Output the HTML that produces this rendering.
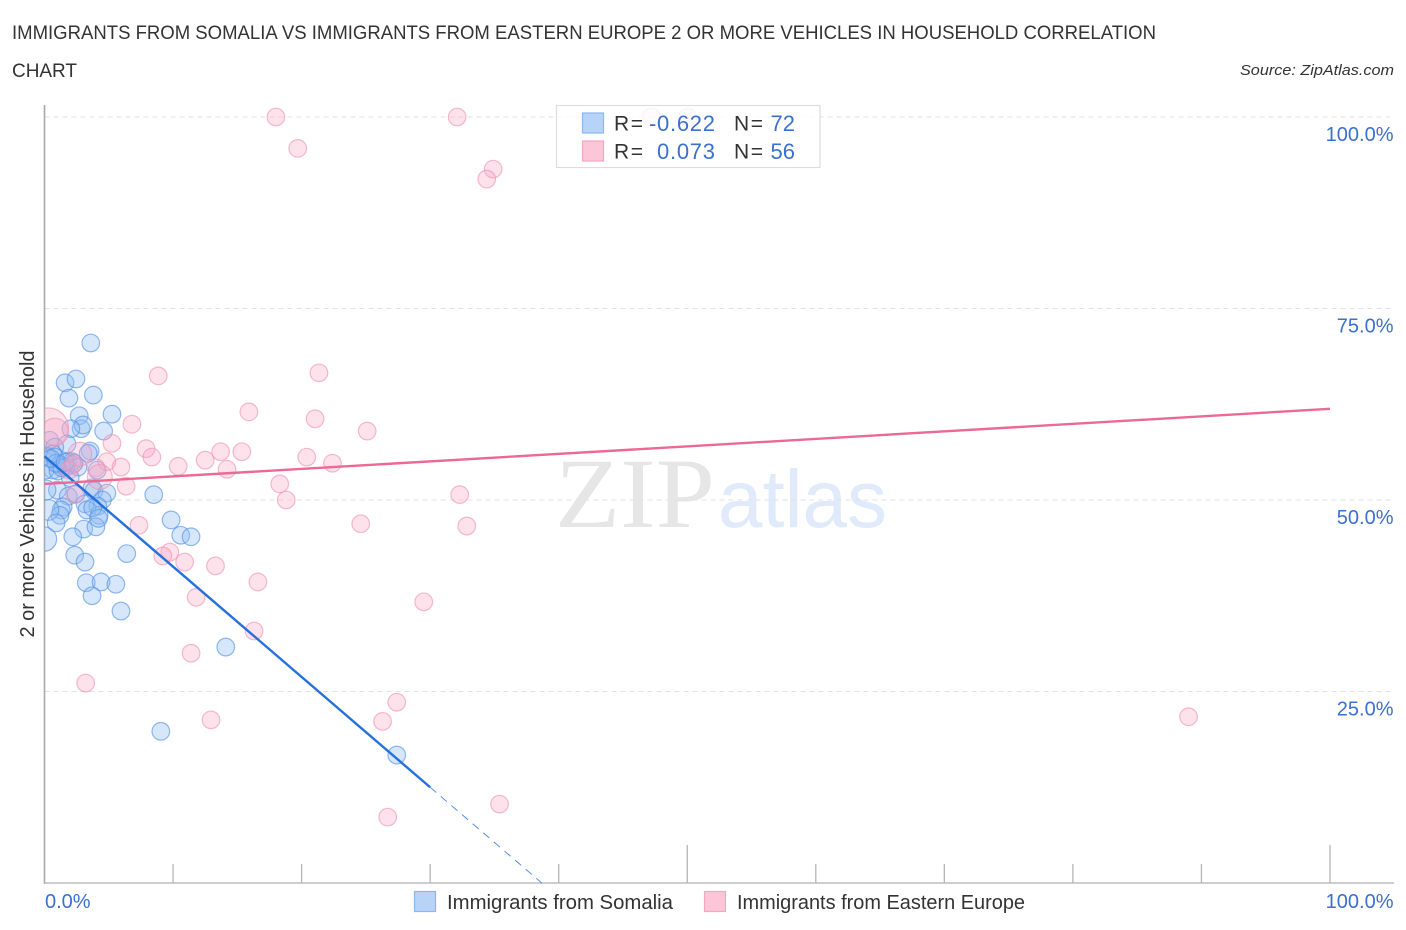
<!DOCTYPE html>
<html lang="en">
<head>
<meta charset="utf-8">
<title>Immigrants from Somalia vs Immigrants from Eastern Europe</title>
<style>
html,body{margin:0;padding:0;background:#fff;}
svg{display:block;font-family:"Liberation Sans",sans-serif;}
</style>
</head>
<body>
<svg id="chart" xmlns="http://www.w3.org/2000/svg" width="1406" height="930" viewBox="0 0 1406 930">
  <defs><clipPath id="plot-clip"><rect x="44.5" y="100" width="1350" height="783"/></clipPath></defs>
  <text x="12" y="39" font-size="19" fill="#333" textLength="1144" lengthAdjust="spacingAndGlyphs">IMMIGRANTS FROM SOMALIA VS IMMIGRANTS FROM EASTERN EUROPE 2 OR MORE VEHICLES IN HOUSEHOLD CORRELATION</text>
  <text x="12" y="77" font-size="19" fill="#333" textLength="65" lengthAdjust="spacingAndGlyphs">CHART</text>
  <text x="1394" y="75" font-size="15" font-style="italic" fill="#333" text-anchor="end" textLength="154" lengthAdjust="spacingAndGlyphs">Source: ZipAtlas.com</text>
  <text x="555" y="527" font-family="'Liberation Serif',serif" font-size="100" fill="#e6e6e6" textLength="160" lengthAdjust="spacingAndGlyphs">ZIP</text>
  <text x="718" y="527" font-size="82" fill="#e0eafa" textLength="169" lengthAdjust="spacingAndGlyphs">atlas</text>
  <g id="grid"></g>
  <g id="axes"></g>
  <g id="points" clip-path="url(#plot-clip)"></g>
  <g id="trends"></g>
  <g>
    <rect x="556.5" y="105.5" width="263.5" height="62" fill="#fff" fill-opacity="0.82" stroke="#ddd" stroke-width="1.2"/>
    <rect x="582.5" y="113" width="21" height="20" fill="#b8d3f8" stroke="#8db6f0" stroke-width="1.2"/>
    <rect x="582.5" y="141" width="21" height="20" fill="#fcc6d8" stroke="#f5a6c0" stroke-width="1.2"/>
    <g font-size="21" fill="#333">
      <text x="614" y="130.5" textLength="29" lengthAdjust="spacing">R =</text>
      <text x="614" y="158.5" textLength="29" lengthAdjust="spacing">R =</text>
      <text x="734" y="130.5" textLength="29" lengthAdjust="spacing">N =</text>
      <text x="734" y="158.5" textLength="29" lengthAdjust="spacing">N =</text>
    </g>
    <g font-size="22" fill="#3b70cf" text-anchor="end">
      <text x="715" y="131" textLength="66" lengthAdjust="spacing">-0.622</text>
      <text x="715" y="159" textLength="58" lengthAdjust="spacing">0.073</text>
      <text x="795" y="131">72</text>
      <text x="795" y="159">56</text>
    </g>
  </g>
  <text transform="translate(34,494) rotate(-90)" font-size="20" fill="#333" text-anchor="middle" textLength="287" lengthAdjust="spacingAndGlyphs">2 or more Vehicles in Household</text>
  <g id="tick-labels"></g>
  <g>
    <rect x="414.5" y="891.5" width="21" height="20" fill="#b8d3f8" stroke="#8db6f0" stroke-width="1.2"/>
    <text x="447" y="909" font-size="20" fill="#333" textLength="226" lengthAdjust="spacingAndGlyphs">Immigrants from Somalia</text>
    <rect x="704.5" y="891.5" width="21" height="20" fill="#fcc6d8" stroke="#f5a6c0" stroke-width="1.2"/>
    <text x="737" y="909" font-size="20" fill="#333" textLength="288" lengthAdjust="spacingAndGlyphs">Immigrants from Eastern Europe</text>
  </g>
</svg>
<script>
const somaliaX = [3.6,1.6,2.45,1.9,3.8,2.7,5.25,2.85,3.0,2.05,4.6,1.75,0.4,0.8,3.55,3.4,0.65,0.2,0.8,1.8,2.15,1.2,2.6,0.65,0.05,1.05,2.0,4.1,3.7,1.0,0.1,3.85,4.85,1.85,8.5,2.45,4.5,3.15,4.15,1.45,1.3,1.2,3.3,4.25,0.3,0.9,9.85,3.05,4.0,10.6,11.4,2.2,0.0,2.35,6.4,3.15,3.25,4.4,5.55,3.7,5.95,14.1,9.05,27.4,1.65,1.35,2.3,0.9,0.5,1.6,3.75,4.2];
const somaliaY = [70.5,65.3,65.8,63.3,63.7,61.0,61.2,59.3,59.8,59.3,59.0,57.3,57.8,56.9,56.4,56.1,56.0,55.7,55.6,55.0,55.0,54.6,54.3,53.9,53.9,53.8,52.9,53.9,51.6,51.3,51.3,51.2,50.9,50.5,50.7,50.8,50.0,49.5,49.2,49.1,48.7,48.0,48.7,48.0,48.7,47.0,47.4,46.2,46.5,45.4,45.2,45.2,44.9,42.8,43.0,41.9,39.2,39.3,39.0,37.5,35.5,30.8,19.8,16.7,54.3,54.2,54.8,54.8,55.4,54.9,49.0,47.6];
const somaliaWeight = [1,1,1,1,1,1,1,1,1,1,1,1,1,1,1,1,1,1,1,1,1,1,1,1,1,1,1,1,1,1,1.3,1,1,1,1,1,1,1,1,1,1,1,1,1,1.4,1,1,1,1,1,1,1,1.9,1,1,1,1,1,1,1,1,1,1,1,1,1,1,1,1,1,1,1];
const europeX = [18.0,32.1,47.2,50.05,19.7,34.9,34.4,21.35,8.85,15.9,21.05,6.8,25.1,0.3,0.8,5.25,7.9,8.35,13.7,15.35,12.5,10.4,14.2,20.4,22.4,4.85,5.95,4.0,4.3,2.75,1.9,2.2,6.35,18.3,18.8,2.35,32.3,7.35,24.6,32.85,9.75,9.2,10.9,13.3,16.6,11.8,29.5,16.3,11.4,3.2,27.4,12.95,26.3,89.0,35.4,26.7];
const europeY = [100,100,100,100,95.9,93.2,91.9,66.6,66.2,61.5,60.6,59.9,59.0,59.4,58.9,57.4,56.7,55.6,56.3,56.3,55.2,54.4,54.0,55.6,54.8,55.0,54.3,54.2,53.0,56.0,53.9,54.6,51.8,52.1,50.0,50.7,50.7,46.7,46.9,46.6,43.2,42.7,41.9,41.4,39.3,37.3,36.7,32.9,30.0,26.1,23.6,21.3,21.1,21.7,10.3,8.6];
const europeWeight = [1,1,1,1,1,1,1,1,1,1,1,1,1,5.2,2.4,1,1,1,1,1,1,1,1,1,1,1,1,1,2,1.8,1,1,1,1,1,1,1,1,1,1,1,1,1,1,1,1,1,1,1,1,1,1,1,1,1,1];
const somaliaTrend = {intercept:55.7, slope:-1.44, solidEnd:30, dashEnd:38.7};
const europeTrend = {intercept:52.1, slope:0.098, solidEnd:100};
const yTicks = [25,50,75,100];
const xTicks = [0,10,20,30,40,50,60,70,80,90,100];
const xMajorTicks = [50,100];

const NS = 'http://www.w3.org/2000/svg';
const sx = v => 44.5 + v * 12.855;
const sy = v => 883 - v * 7.66;
function make(tag, attrs, parent){
  const el = document.createElementNS(NS, tag);
  for (const k in attrs) el.setAttribute(k, attrs[k]);
  parent.appendChild(el);
  return el;
}
const grid = document.getElementById('grid');
const axes = document.getElementById('axes');
const pts = document.getElementById('points');
const trends = document.getElementById('trends');
const labels = document.getElementById('tick-labels');

yTicks.forEach(t => {
  const line = make('line', {x1:44.5, x2:1394, y1:sy(t), y2:sy(t), stroke:'#e2e2e2', 'stroke-width':1, 'stroke-dasharray':'5 4'}, grid);
  
  
  const txt = make('text', {x:1393.5, y:sy(t) + 24, 'font-size':20, fill:'#3b70cf', 'text-anchor':'end'}, labels);
  txt.textContent = t.toFixed(1) + '%';
  
  
});

const yAxis = make('line', {x1:44.5, x2:44.5, y1:105, y2:884, stroke:'#a8a8a8', 'stroke-width':1.6}, axes);


const xAxis = make('line', {x1:44, x2:1394, y1:883, y2:883, stroke:'#bdbdbd', 'stroke-width':1.6}, axes);


xTicks.forEach(t => {
  if (t === 0) return;
  const top = xMajorTicks.includes(t) ? 845 : 864;
  const tick = make('line', {x1:sx(t), x2:sx(t), y1:top, y2:883, stroke:'#b5b5b5', 'stroke-width':1.3}, axes);
  
  
});
const x0 = make('text', {x:45, y:908, 'font-size':20, fill:'#3b70cf'}, labels);
x0.textContent = '0.0%';


const x100 = make('text', {x:1393.5, y:908, 'font-size':20, fill:'#3b70cf', 'text-anchor':'end'}, labels);
x100.textContent = '100.0%';



function drawEurope(){
  europeX.forEach((v, i) => {
    const c = make('circle', {cx:sx(v), cy:sy(europeY[i]), r:8.8 * Math.sqrt(europeWeight[i]), fill:'#f9a8c4', 'fill-opacity':0.34, stroke:'#ef8fb0', 'stroke-opacity':0.6, 'stroke-width':1.2}, pts);
    
    
  });
}
function drawSomalia(){
  somaliaX.forEach((v, i) => {
    const c = make('circle', {cx:sx(v), cy:sy(somaliaY[i]), r:8.8 * Math.sqrt(somaliaWeight[i]), fill:'#8fbdf3', 'fill-opacity':0.36, stroke:'#4f8fe4', 'stroke-opacity':0.62, 'stroke-width':1.2}, pts);
    
    
  });
}
drawSomalia();
drawEurope();

const lineAt = (tr, x) => tr.intercept + tr.slope * x;
const blueSolid = make('line', {x1:sx(0), y1:sy(lineAt(somaliaTrend,0)), x2:sx(somaliaTrend.solidEnd), y2:sy(lineAt(somaliaTrend,somaliaTrend.solidEnd)), stroke:'#2471dd', 'stroke-width':2.4}, trends);


const blueDash = make('line', {x1:sx(somaliaTrend.solidEnd), y1:sy(lineAt(somaliaTrend,somaliaTrend.solidEnd)), x2:sx(somaliaTrend.dashEnd), y2:sy(lineAt(somaliaTrend,somaliaTrend.dashEnd)), stroke:'#5d8fe0', 'stroke-width':1, 'stroke-dasharray':'8 6'}, trends);


const pinkLine = make('line', {x1:sx(0), y1:sy(lineAt(europeTrend,0)), x2:sx(europeTrend.solidEnd), y2:sy(lineAt(europeTrend,europeTrend.solidEnd)), stroke:'#ea6a95', 'stroke-width':2.4}, trends);


</script>
</body>
</html>
